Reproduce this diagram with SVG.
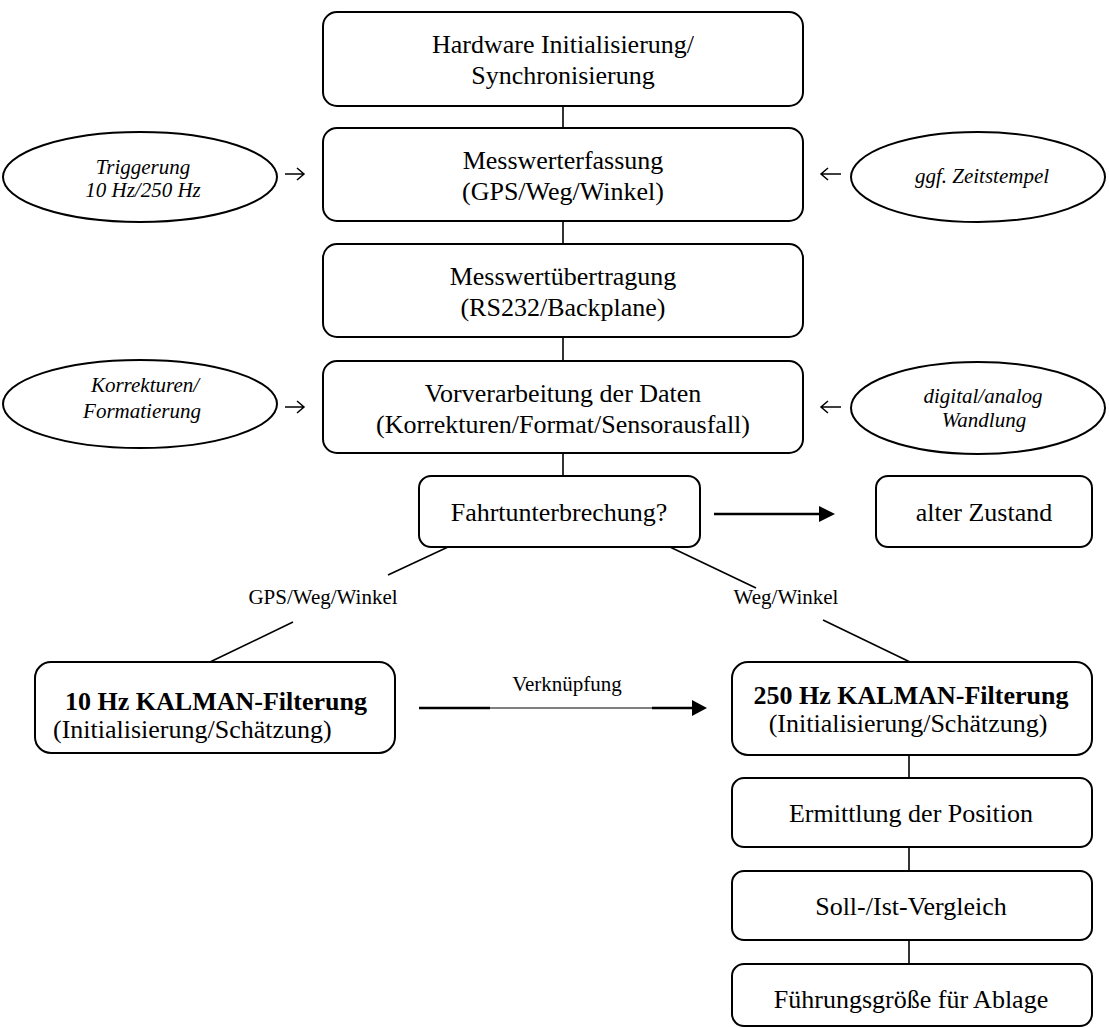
<svg xmlns="http://www.w3.org/2000/svg" width="1109" height="1028" viewBox="0 0 1109 1028">
  <style>
    .box { fill: #fff; stroke: #000; stroke-width: 2; }
    .ell { fill: #fff; stroke: #000; stroke-width: 2; }
    .t { font-family: "Liberation Serif", "Times New Roman", serif; font-size: 26px; fill: #000; text-anchor: middle; }
    .b { font-weight: bold; }
    .i { font-family: "Liberation Serif", "Times New Roman", serif; font-size: 21px; font-style: italic; fill: #000; text-anchor: middle; }
    .lbl { font-family: "Liberation Serif", "Times New Roman", serif; font-size: 21px; fill: #000; text-anchor: middle; }
    .ln { stroke: #000; stroke-width: 1.6; fill: none; }
    .thin { stroke: #000; stroke-width: 1; fill: none; }
    .thick { stroke: #000; stroke-width: 2.4; fill: none; }
    .open { stroke: #000; stroke-width: 1.5; fill: none; }
  </style>

  <!-- connectors -->
  <g id="connectors">
    <line class="ln" x1="563" y1="106" x2="563" y2="128"/>
    <line class="ln" x1="563" y1="221" x2="563" y2="244"/>
    <line class="ln" x1="563" y1="337" x2="563" y2="361"/>
    <line class="ln" x1="563" y1="453" x2="563" y2="476"/>

    <!-- side inputs -->
    <path class="open" d="M285 174 H304 M297 168 L304 174 L297 180"/>
    <path class="open" d="M841 174 H821 M828 168 L821 174 L828 180"/>
    <path class="open" d="M285 407 H304 M297 401 L304 407 L297 413"/>
    <path class="open" d="M841 407 H821 M828 401 L821 407 L828 413"/>

    <!-- Fahrtunterbrechung -> alter Zustand -->
    <line class="thick" x1="714" y1="514" x2="821" y2="514"/>
    <polygon points="835,514 819,506 819,522" fill="#000"/>

    <!-- branches -->
    <line class="ln" x1="448" y1="547" x2="388" y2="575"/>
    <line class="ln" x1="293" y1="622" x2="210" y2="662"/>
    <line class="ln" x1="670" y1="547" x2="756" y2="588"/>
    <line class="ln" x1="823" y1="620" x2="910" y2="662"/>
    <text class="lbl" x="323" y="604">GPS/Weg/Winkel</text>
    <text class="lbl" x="786" y="604">Weg/Winkel</text>

    <!-- Verknüpfung -->
    <line class="thick" x1="419" y1="708" x2="490" y2="708"/>
    <line class="thin" x1="490" y1="708" x2="652" y2="708"/>
    <line class="thick" x1="652" y1="708" x2="694" y2="708"/>
    <polygon points="707,708 692,700 692,716" fill="#000"/>
    <text class="lbl" x="567" y="691">Verknüpfung</text>

    <!-- right column -->
    <line class="ln" x1="909" y1="755" x2="909" y2="778"/>
    <line class="ln" x1="909" y1="847" x2="909" y2="871"/>
    <line class="ln" x1="909" y1="940" x2="909" y2="964"/>
  </g>

  <g id="hardware">
    <rect class="box" x="323" y="12" width="480" height="94" rx="14"/>
    <text class="t" x="563" y="53">Hardware Initialisierung/</text>
    <text class="t" x="563" y="84">Synchronisierung</text>
  </g>

  <g id="messwerterfassung">
    <rect class="box" x="323" y="128" width="480" height="93" rx="14"/>
    <text class="t" x="563" y="169">Messwerterfassung</text>
    <text class="t" x="563" y="200">(GPS/Weg/Winkel)</text>
  </g>

  <g id="triggerung">
    <ellipse class="ell" cx="140" cy="177" rx="137" ry="45"/>
    <text class="i" x="143" y="174">Triggerung</text>
    <text class="i" x="143" y="197">10 Hz/250 Hz</text>
  </g>

  <g id="zeitstempel">
    <ellipse class="ell" cx="978" cy="177" rx="127" ry="45"/>
    <text class="i" x="982" y="183">ggf. Zeitstempel</text>
  </g>

  <g id="messwertuebertragung">
    <rect class="box" x="323" y="244" width="480" height="93" rx="14"/>
    <text class="t" x="563" y="285">Messwertübertragung</text>
    <text class="t" x="563" y="316">(RS232/Backplane)</text>
  </g>

  <g id="vorverarbeitung">
    <rect class="box" x="323" y="361" width="480" height="92" rx="14"/>
    <text class="t" x="563" y="402">Vorverarbeitung der Daten</text>
    <text class="t" x="563" y="433">(Korrekturen/Format/Sensorausfall)</text>
  </g>

  <g id="korrekturen">
    <ellipse class="ell" cx="140" cy="404" rx="137" ry="44"/>
    <text class="i" x="145" y="392">Korrekturen/</text>
    <text class="i" x="142" y="418">Formatierung</text>
  </g>

  <g id="wandlung">
    <ellipse class="ell" cx="978" cy="408" rx="127" ry="46"/>
    <text class="i" x="983" y="403">digital/analog</text>
    <text class="i" x="984" y="427">Wandlung</text>
  </g>

  <g id="fahrtunterbrechung">
    <rect class="box" x="419" y="476" width="281" height="71" rx="12"/>
    <text class="t" x="559" y="521">Fahrtunterbrechung?</text>
  </g>

  <g id="alter-zustand">
    <rect class="box" x="876" y="476" width="216" height="71" rx="12"/>
    <text class="t" x="984" y="521">alter Zustand</text>
  </g>

  <g id="kalman-10hz">
    <rect class="box" x="35" y="662" width="360" height="91" rx="16"/>
    <text class="t b" x="216" y="710">10 Hz KALMAN-Filterung</text>
    <text class="t" x="53" y="738" style="text-anchor:start">(Initialisierung/Schätzung)</text>
  </g>

  <g id="kalman-250hz">
    <rect class="box" x="732" y="662" width="360" height="93" rx="16"/>
    <text class="t b" x="911" y="704">250 Hz KALMAN-Filterung</text>
    <text class="t" x="908" y="732">(Initialisierung/Schätzung)</text>
  </g>

  <g id="ermittlung">
    <rect class="box" x="732" y="778" width="360" height="69" rx="12"/>
    <text class="t" x="911" y="822">Ermittlung der Position</text>
  </g>

  <g id="soll-ist">
    <rect class="box" x="732" y="871" width="360" height="69" rx="12"/>
    <text class="t" x="911" y="915">Soll-/Ist-Vergleich</text>
  </g>

  <g id="fuehrungsgroesse">
    <rect class="box" x="732" y="964" width="360" height="62" rx="12"/>
    <text class="t" x="911" y="1008">Führungsgröße für Ablage</text>
  </g>
</svg>
